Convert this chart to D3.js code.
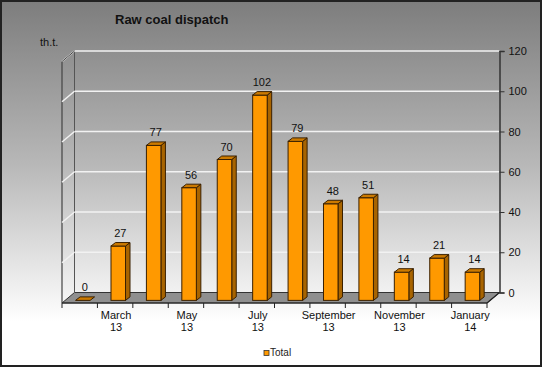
<!DOCTYPE html>
<html><head><meta charset="utf-8">
<script src="https://cdn.jsdelivr.net/npm/d3@7"></script>
<style>body{margin:0;padding:0;background:#fff}svg{display:block}</style>
</head><body>
<script>
const categories = ["February 13","March 13","April 13","May 13","June 13","July 13","August 13","September 13","October 13","November 13","December 13","January 14"];
const totalValues = [0,27,77,56,70,102,79,48,51,14,21,14];
const yTicks = [0,20,40,60,80,100,120];
const labelledCategories = ["March 13","May 13","July 13","September 13","November 13","January 14"];
const seriesName = "Total";
const chartTitle = "Raw coal dispatch";
const unitLabel = "th.t.";

const W = 543, H = 368;
const svg = d3.select("body").append("svg").attr("width", W).attr("height", H)
  .style("font-family", "'Liberation Sans', Arial, sans-serif");

const defs = svg.append("defs");
const g1 = defs.append("linearGradient").attr("id","bg").attr("x1",0).attr("y1",0).attr("x2",0).attr("y2",1);
g1.append("stop").attr("offset","0%").attr("stop-color","#7d7d7d");
g1.append("stop").attr("offset","45%").attr("stop-color","#b8b8b8");
g1.append("stop").attr("offset","88%").attr("stop-color","#ffffff");
g1.append("stop").attr("offset","100%").attr("stop-color","#ffffff");

svg.append("rect").attr("x",1).attr("y",1).attr("width",W-3).attr("height",H-3)
  .attr("fill","url(#bg)").attr("stroke","#222").attr("stroke-width",2);

// geometry
const x0 = 62, x1 = 487, yFloorFront = 303;
const DX = 12.5, DY = -10.5;   // depth offset
const x = d3.scaleBand().domain(categories).range([x0, x1]).padding(0);
const yBack = d3.scaleLinear().domain([0,120]).range([yFloorFront + DY, 51]);
const fBar = 0.25;               // bar front-face depth fraction
const yFront = d3.scaleLinear().domain([0,120]).range([yFloorFront + DY*fBar, yFloorFront + DY*fBar - (yBack(0)-yBack(120))]);

const pts = a => a.map(p => p.join(",")).join(" ");

// floor
svg.append("polygon")
  .attr("points", pts([[x0,yFloorFront],[x1,yFloorFront],[x1+DX,yFloorFront+DY],[x0+DX,yFloorFront+DY]]))
  .attr("fill","#8f8f8f").attr("stroke","#333").attr("stroke-width",1);

// left wall
svg.append("line").attr("x1",x0).attr("y1",yFloorFront).attr("x2",x0).attr("y2",yBack(120)-DY)
  .attr("stroke","#444").attr("stroke-width",1.2);
svg.append("line").attr("x1",x0+DX).attr("y1",yBack(0)).attr("x2",x0+DX).attr("y2",yBack(120))
  .attr("stroke","#555").attr("stroke-width",1);

// gridlines
yTicks.forEach(t => {
  if (t === 0) return;
  svg.append("line").attr("x1",x0+DX).attr("x2",x1+DX).attr("y1",yBack(t)).attr("y2",yBack(t))
    .attr("stroke","#f2f2f2").attr("stroke-width",1.5);
  svg.append("line").attr("x1",x0).attr("y1",yBack(t)-DY).attr("x2",x0+DX).attr("y2",yBack(t))
    .attr("stroke","#f2f2f2").attr("stroke-width",1.5);
});
// left wall top slant
svg.append("line").attr("x1",x0).attr("y1",yBack(120)-DY).attr("x2",x0+DX).attr("y2",yBack(120))
  .attr("stroke","#444").attr("stroke-width",1);

// right axis
const yAxis = d3.axisRight(yBack).tickValues(yTicks).tickSize(5).tickPadding(4);
const ya = svg.append("g").attr("transform",`translate(${x1+DX},0)`).call(yAxis);
ya.select(".domain").attr("stroke","#333").attr("stroke-width",1.5);
ya.selectAll(".tick line").attr("stroke","#333");
ya.selectAll("text").attr("font-size",11).attr("fill","#111").attr("font-family","'Liberation Sans', Arial, sans-serif");

// x axis
svg.append("line").attr("x1",x0).attr("x2",x1).attr("y1",yFloorFront).attr("y2",yFloorFront).attr("stroke","#222").attr("stroke-width",1.2);
svg.append("line").attr("x1",x1).attr("y1",yFloorFront).attr("x2",x1+DX).attr("y2",yFloorFront+DY).attr("stroke","#222").attr("stroke-width",1.2);
const bounds = categories.map(c => x(c)).concat([x1]);
svg.selectAll(".xt").data(bounds).enter().append("line")
  .attr("x1",d=>d).attr("x2",d=>d).attr("y1",yFloorFront).attr("y2",yFloorFront+5).attr("stroke","#222");
const xl = svg.selectAll(".xl").data(categories.filter(c => labelledCategories.includes(c))).enter()
  .append("text").attr("text-anchor","middle").attr("font-size",11).attr("fill","#111")
  .attr("x", d => x(d) + x.bandwidth()/2 + 1);
xl.append("tspan").attr("y",319).attr("x", d => x(d) + x.bandwidth()/2 + 1).text(d => d.split(" ")[0]);
xl.append("tspan").attr("y",331).attr("x", d => x(d) + x.bandwidth()/2 + 1).text(d => d.split(" ")[1]);

// bars
const bw = x.bandwidth()*0.41;
const bdx = 4.5, bdy = -3.5;
const bars = svg.selectAll(".bar").data(categories.map((c,i)=>({c, v: totalValues[i]}))).enter().append("g");
bars.each(function(d){
  const g = d3.select(this);
  const bx = x(d.c) + (x.bandwidth()-bw)/2 + DX*fBar;
  const yt = yFront(d.v), yb = yFront(0);
  const st = {stroke:"#3a2000","stroke-width":1,"stroke-linejoin":"round"};
  if (d.v > 0) {
    g.append("polygon").attr("points", pts([[bx+bw,yt],[bx+bw+bdx,yt+bdy],[bx+bw+bdx,yb+bdy],[bx+bw,yb]]))
      .attr("fill","#a86400").attr("stroke",st.stroke).attr("stroke-width",1);
    g.append("rect").attr("x",bx).attr("y",yt).attr("width",bw).attr("height",yb-yt)
      .attr("fill","#ff9900").attr("stroke",st.stroke).attr("stroke-width",1);
  }
  g.append("polygon").attr("points", pts([[bx,yt],[bx+bw,yt],[bx+bw+bdx,yt+bdy],[bx+bdx,yt+bdy]]))
    .attr("fill","#cc7a00").attr("stroke",st.stroke).attr("stroke-width",1);
  g.append("text").attr("x", bx + bw/2 + 2).attr("y", yt - 9).attr("text-anchor","middle")
    .attr("font-size",11).attr("fill","#111").text(d.v);
});

// title & unit
svg.append("text").attr("x",115).attr("y",24).attr("font-size",13).attr("font-weight","bold").attr("fill","#111").text(chartTitle);
svg.append("text").attr("x",40).attr("y",46).attr("font-size",11).attr("fill","#111").text(unitLabel);

// legend
svg.append("rect").attr("x",264).attr("y",350.5).attr("width",5).attr("height",5).attr("fill","#ff9900").attr("stroke","#333").attr("stroke-width",0.8);
svg.append("text").attr("x",270).attr("y",356).attr("font-size",10).attr("fill","#222").text(seriesName);
</script>
</body></html>
